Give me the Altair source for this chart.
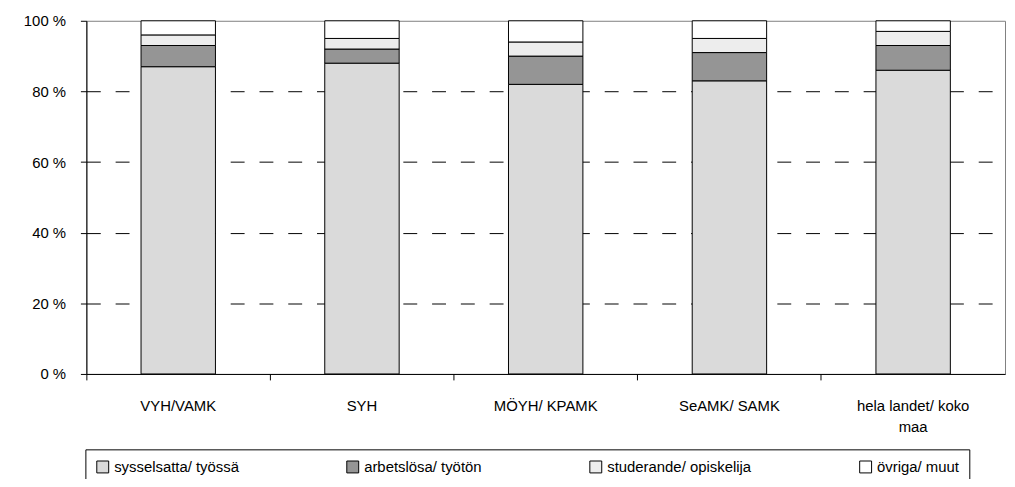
import altair as alt
import pandas as pd

categories = ["VYH/VAMK", "SYH", "MÖYH/ KPAMK", "SeAMK/ SAMK", "hela landet/ koko maa"]
series = ["sysselsatta/ työssä", "arbetslösa/ työtön", "studerande/ opiskelija", "övriga/ muut"]
sysselsatta = [87, 88, 82, 83, 86]
arbetslosa = [6, 4, 8, 8, 7]
studerande = [3, 3, 4, 4, 4]
ovriga = [4, 5, 6, 5, 3]
y_ticks = [0, 20, 40, 60, 80, 100]
fills = ["#dadada", "#959595", "#ededed", "#ffffff"]

rows = []
for i, cat in enumerate(categories):
    for j, vals in enumerate([sysselsatta, arbetslosa, studerande, ovriga]):
        rows.append({"kategori": cat, "serie": series[j], "ordning": j, "andel": vals[i]})
df = pd.DataFrame(rows)

FONT = "Liberation Sans"
W, H = 926, 356

bars = alt.Chart(df).mark_bar(
    stroke="black", strokeWidth=1, width=alt.RelativeBandSize(0.405)
).encode(
    x=alt.X(
        "kategori:N", sort=categories, title=None,
        scale=alt.Scale(paddingInner=0, paddingOuter=0),
        axis=alt.Axis(
            labelAngle=0, bandPosition=0,
            labelExpr="datum.label == 'hela landet/ koko maa' ? ['hela landet/ koko', 'maa'] : datum.label",
            labelFont=FONT, labelFontSize=15, labelColor="black", labelPadding=19,
            labelLineHeight=21, labelLimit=300,
            domainColor="black", tickColor="black", tickSize=6, grid=False,
        ),
    ),
    y=alt.Y(
        "andel:Q", stack="zero", title=None,
        scale=alt.Scale(domain=[0, 100], nice=False),
        axis=alt.Axis(
            values=y_ticks, labelExpr="datum.value + ' %'",
            labelFont=FONT, labelFontSize=15, labelColor="black", labelPadding=15,
            domainColor="black", tickColor="black", tickSize=6,
            grid=True, gridColor="black", gridDash=[14, 15], gridWidth=1,
            gridOpacity=alt.condition("datum.value == 0 || datum.value == 100", alt.value(0), alt.value(1)),
        ),
    ),
    color=alt.Color(
        "serie:N", sort=series,
        scale=alt.Scale(domain=series, range=fills),
        legend=alt.Legend(
            title=None, orient="none", legendX=-1, legendY=432, direction="horizontal",
            strokeColor="black", fillColor="white", padding=10, cornerRadius=0,
            symbolType="square", symbolSize=144, symbolStrokeColor="black", symbolStrokeWidth=1,
            labelFont=FONT, labelFontSize=15, labelColor="black", labelOffset=4,
            columnPadding=106, labelLimit=400,
        ),
    ),
    order=alt.Order("ordning:Q", sort="ascending"),
)

chart = bars.properties(
    width=W, height=H,
    autosize=alt.AutoSizeParams(type="none"),
    padding={"left": 79, "top": 11, "right": 2, "bottom": 104},
    background="white",
).configure_view(stroke="#808080", strokeWidth=1)

chart.save("out.html", embed_options={"renderer": "svg", "actions": False})
